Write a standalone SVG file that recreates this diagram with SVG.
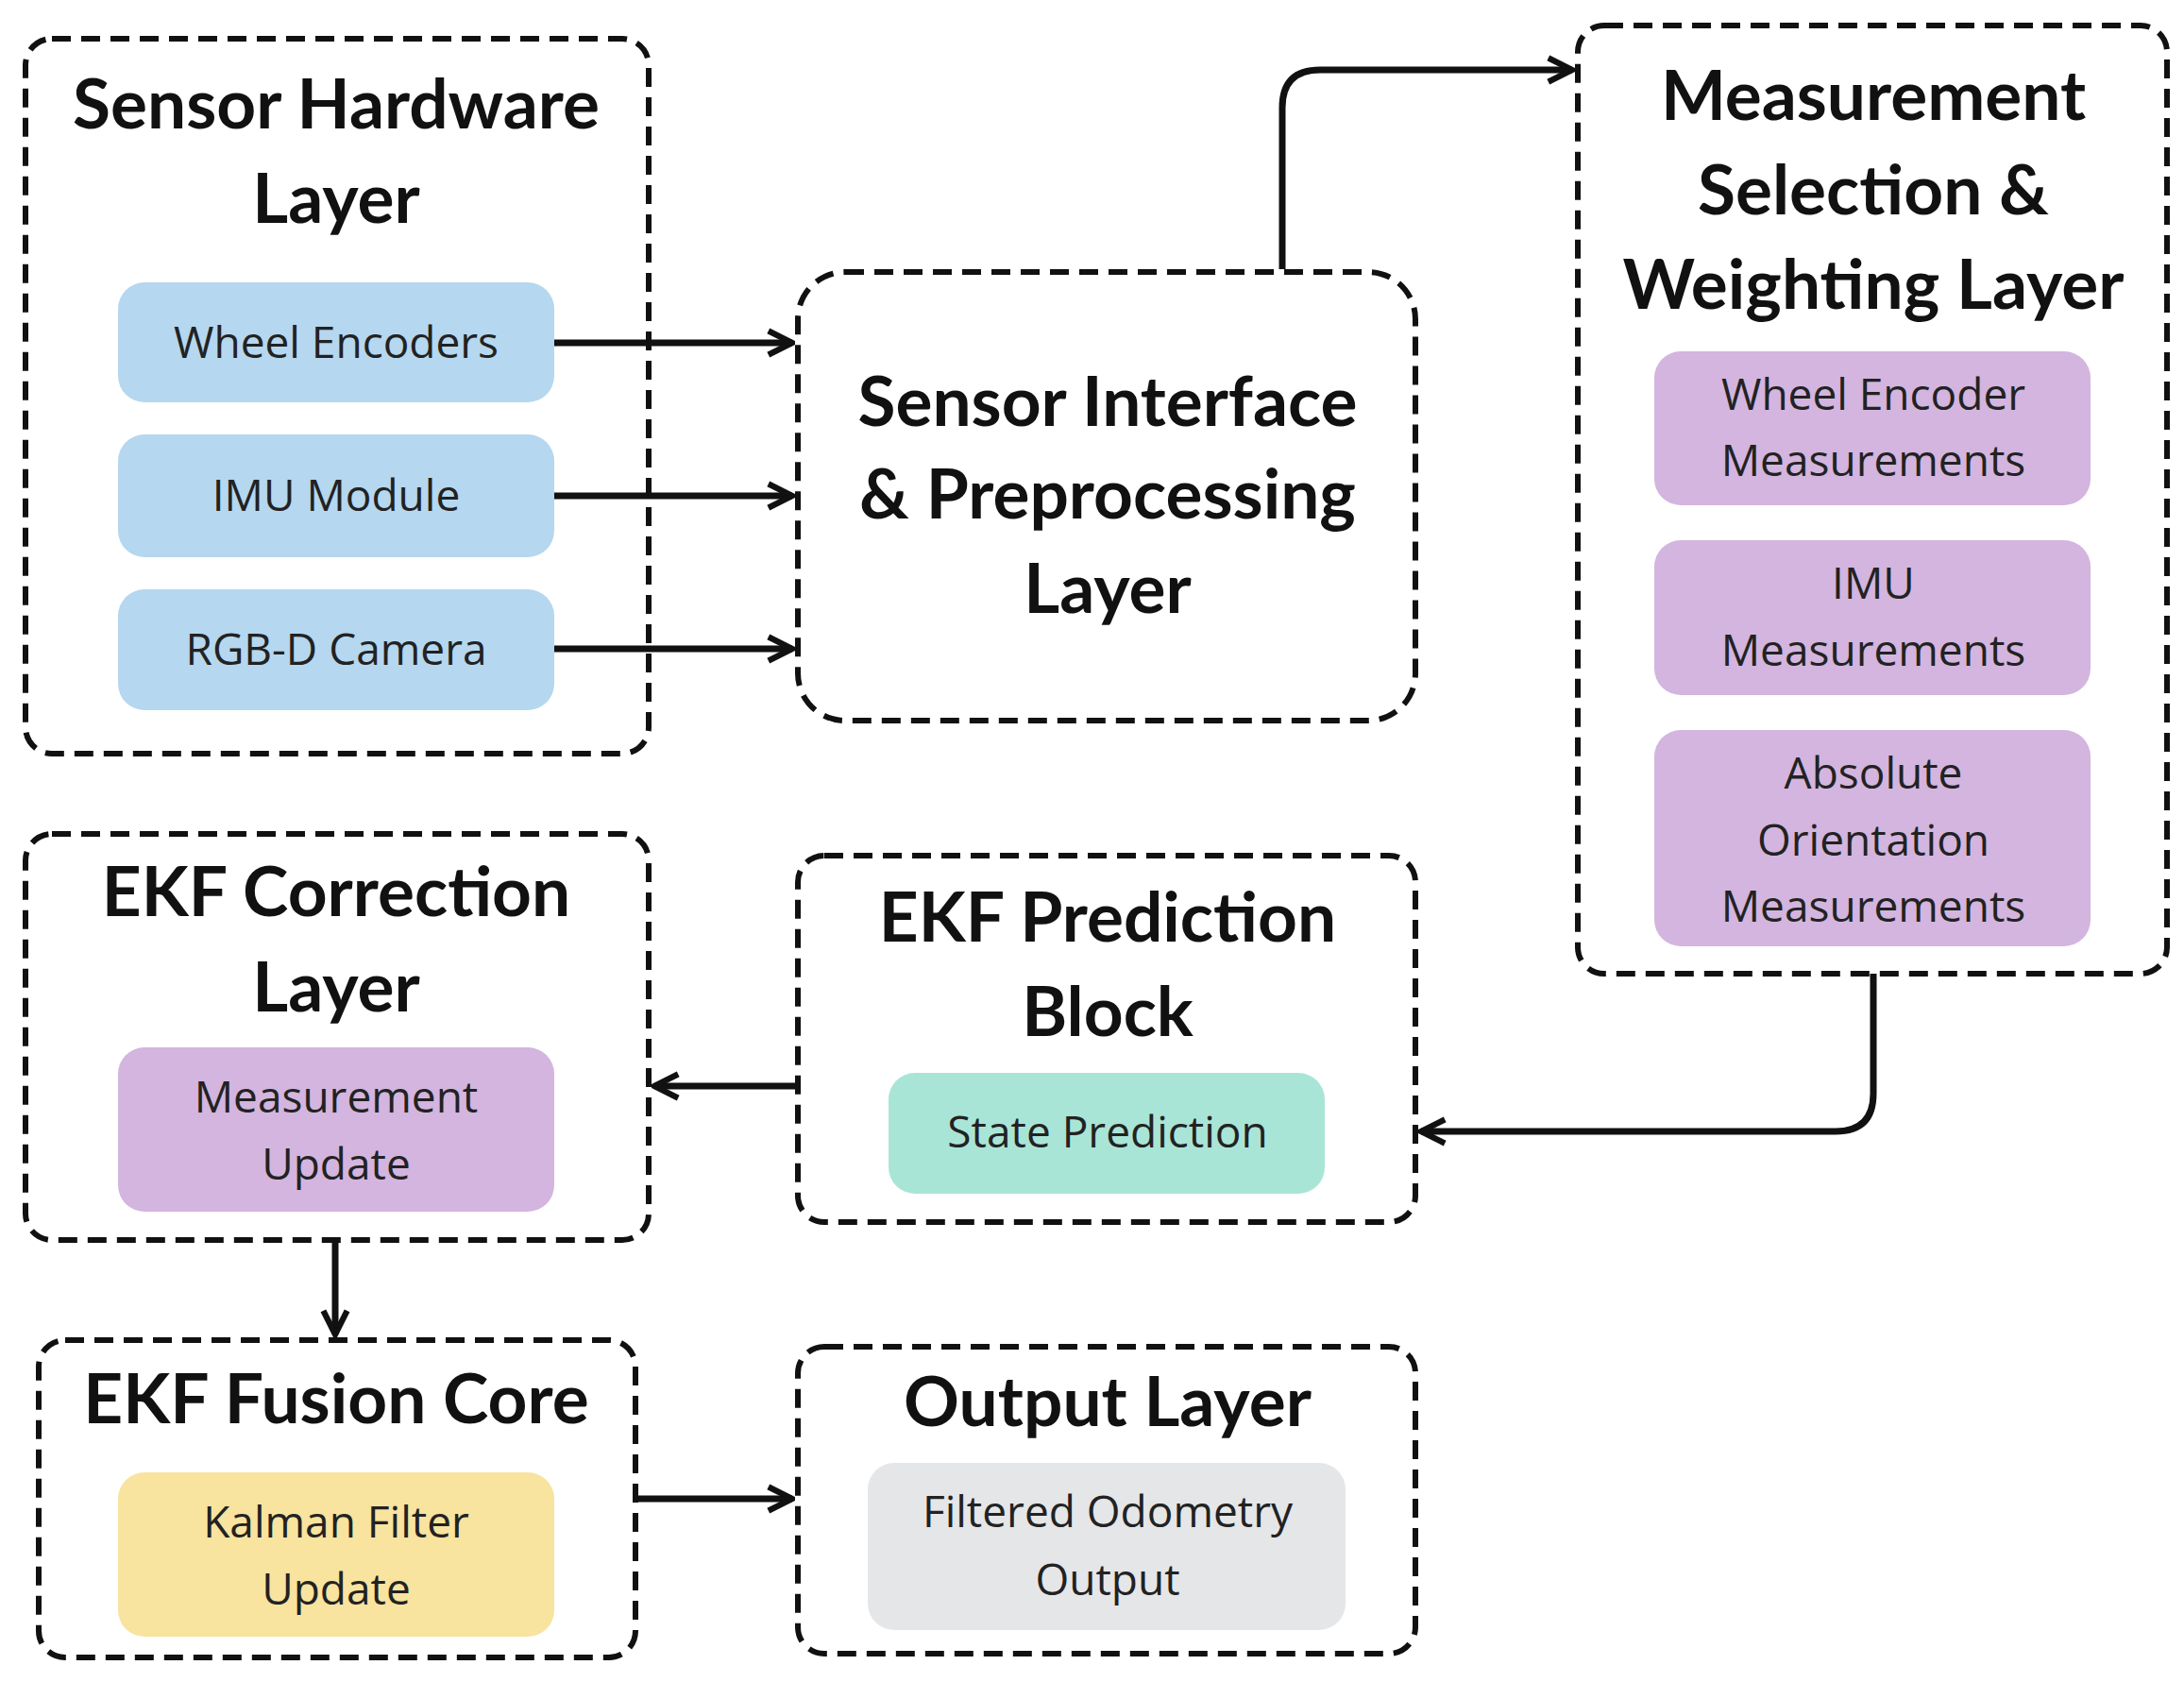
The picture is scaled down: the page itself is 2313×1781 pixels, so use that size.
<svg xmlns="http://www.w3.org/2000/svg" width="2313" height="1781" viewBox="0 0 2313 1781">
<style>
.box{fill:#fff;stroke:#111;stroke-width:6;stroke-dasharray:20 11}
.t{font-family:Lato,"Open Sans",sans-serif;font-weight:bold;font-size:73px;fill:#111;text-anchor:middle}
.p{font-family:"Open Sans","Liberation Sans",sans-serif;font-size:46px;fill:#222;text-anchor:middle}
.c{fill:none;stroke:#111;stroke-width:7}
.blue{fill:#b5d7ef}.pur{fill:#d3b5df}.teal{fill:#a9e5d7}.yel{fill:#f8e39f}.gray{fill:#e5e6e8}
</style>
<defs><marker id="a" viewBox="0 0 10 10" refX="9" refY="5" markerWidth="4.5" markerHeight="4.5" orient="auto"><path d="M1 1L9 5L1 9" fill="none" stroke="#111" stroke-width="2"/></marker></defs>
<rect width="2313" height="1781" fill="#fff"/>
<g id="hw"><rect class="box" x="27" y="41" width="660" height="757" rx="28"/>
<text class="t" x="356" y="136">Sensor Hardware</text><text class="t" x="356" y="236">Layer</text>
<rect class="blue" x="125" y="299" width="462" height="127" rx="28"/><text class="p" x="356" y="379">Wheel Encoders</text>
<rect class="blue" x="125" y="460" width="462" height="130" rx="28"/><text class="p" x="356" y="541">IMU Module</text>
<rect class="blue" x="125" y="624" width="462" height="128" rx="28"/><text class="p" x="356" y="704">RGB-D Camera</text></g>
<g id="sip"><rect class="box" x="845" y="288" width="654" height="475" rx="50"/>
<text class="t" x="1173" y="451">Sensor Interface</text><text class="t" x="1173" y="549">&amp; Preprocessing</text><text class="t" x="1173" y="649">Layer</text></g>
<g id="msw"><rect class="box" x="1671" y="27" width="624" height="1004" rx="28"/>
<text class="t" x="1984" y="127">Measurement</text><text class="t" x="1984" y="227">Selection &amp;</text><text class="t" x="1984" y="327">Weighting Layer</text>
<rect class="pur" x="1752" y="372" width="462" height="163" rx="28"/><text class="p" x="1984" y="434">Wheel Encoder</text><text class="p" x="1984" y="504">Measurements</text>
<rect class="pur" x="1752" y="572" width="462" height="164" rx="28"/><text class="p" x="1984" y="634">IMU</text><text class="p" x="1984" y="705">Measurements</text>
<rect class="pur" x="1752" y="773" width="462" height="229" rx="28"/><text class="p" x="1984" y="835">Absolute</text><text class="p" x="1984" y="906">Orientation</text><text class="p" x="1984" y="976">Measurements</text></g>
<g id="corr"><rect class="box" x="27" y="883" width="660" height="430" rx="28"/>
<text class="t" x="356" y="970">EKF Correction</text><text class="t" x="356" y="1071">Layer</text>
<rect class="pur" x="125" y="1109" width="462" height="174" rx="28"/><text class="p" x="356" y="1178">Measurement</text><text class="p" x="356" y="1249">Update</text></g>
<g id="pred"><rect class="box" x="845" y="906" width="654" height="388" rx="28"/>
<text class="t" x="1173" y="997">EKF Prediction</text><text class="t" x="1173" y="1097">Block</text>
<rect class="teal" x="941" y="1136" width="462" height="128" rx="28"/><text class="p" x="1173" y="1215">State Prediction</text></g>
<g id="fus"><rect class="box" x="41" y="1419" width="632" height="336" rx="28"/>
<text class="t" x="356" y="1507">EKF Fusion Core</text>
<rect class="yel" x="125" y="1559" width="462" height="174" rx="28"/><text class="p" x="356" y="1628">Kalman Filter</text><text class="p" x="356" y="1699">Update</text></g>
<g id="out"><rect class="box" x="845" y="1426" width="654" height="325" rx="28"/>
<text class="t" x="1173" y="1510">Output Layer</text>
<rect class="gray" x="919" y="1549" width="506" height="177" rx="28"/><text class="p" x="1173" y="1617">Filtered Odometry</text><text class="p" x="1173" y="1689">Output</text></g>
<g id="connectors">
<path class="c" d="M587 363H839" marker-end="url(#a)"/>
<path class="c" d="M587 525H839" marker-end="url(#a)"/>
<path class="c" d="M587 687H839" marker-end="url(#a)"/>
<path class="c" d="M1358 285V114Q1358 74 1398 74H1665" marker-end="url(#a)"/>
<path class="c" d="M1984 1031V1158Q1984 1198 1944 1198H1505" marker-end="url(#a)"/>
<path class="c" d="M845 1150H693" marker-end="url(#a)"/>
<path class="c" d="M355 1313V1413" marker-end="url(#a)"/>
<path class="c" d="M673 1587H839" marker-end="url(#a)"/>
</g>
</svg>
